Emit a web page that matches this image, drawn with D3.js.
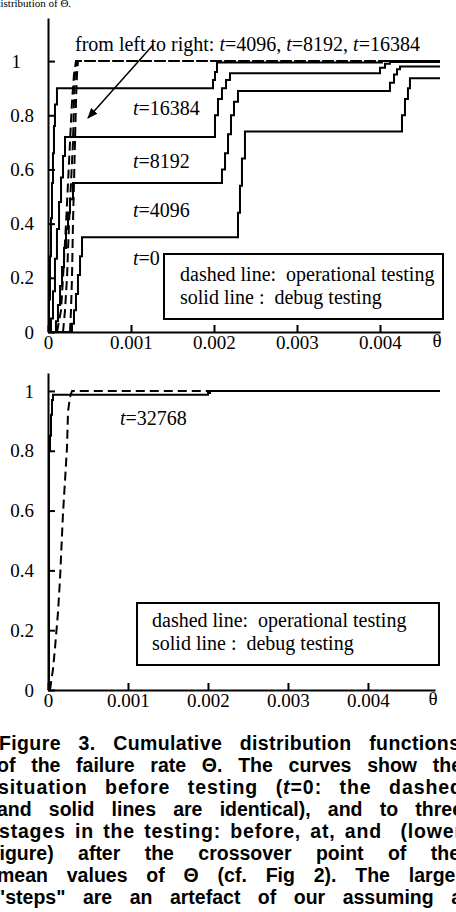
<!DOCTYPE html>
<html><head><meta charset="utf-8">
<script src="https://cdn.jsdelivr.net/npm/d3@7"></script>
<style>html,body{margin:0;padding:0;background:#fff;overflow:hidden}</style>
</head><body>
<svg id="c" width="456" height="912" xmlns="http://www.w3.org/2000/svg"></svg>
<script>
// ---------- data ----------
const xTicks = [0, 0.001, 0.002, 0.003, 0.004];
const xTickLabels = ["0", "0.001", "0.002", "0.003", "0.004"];
const yTicks = [0, 0.2, 0.4, 0.6, 0.8, 1];
const yTickLabels = ["0", "0.2", "0.4", "0.6", "0.8", "1"];

// Upper panel: debug testing (solid) CDFs, [theta, F] steps
const solidT0 = [[0,0],[0.000265,0],[0.000289,0.03],[0.000313,0.08],[0.000337,0.14],[0.000361,0.21],[0.000386,0.28],[0.00041,0.35],
  [0.002289,0.44],[0.002313,0.54],[0.002337,0.64],[0.002373,0.74],[0.004265,0.80],[0.004301,0.86],[0.004337,0.90],[0.004361,0.937],[0.004723,0.937]];
const solidT4096 = [[0,0],[0.000072,0],[0.000096,0.04],[0.00012,0.10],[0.000145,0.17],[0.000169,0.24],[0.000193,0.31],[0.000217,0.38],[0.000241,0.44],[0.000265,0.49],[0.000301,0.55],
  [0.002096,0.60],[0.002133,0.66],[0.002169,0.73],[0.002205,0.80],[0.002241,0.85],[0.002289,0.89],[0.00412,0.92],[0.004169,0.95],[0.004205,0.97],[0.004241,0.98],[0.004723,0.98]];
const solidT8192 = [[0,0],[0.000024,0],[0.000036,0.05],[0.00006,0.15],[0.000084,0.27],[0.000108,0.38],[0.000133,0.48],[0.000157,0.57],[0.000181,0.65],[0.000205,0.72],
  [0.002012,0.80],[0.002048,0.86],[0.002096,0.90],[0.002145,0.93],[0.002193,0.955],[0.004,0.975],[0.00406,0.99],[0.00412,0.997],[0.004723,0.997]];
const solidT16384 = [[0,0],[0.000012,0.12],[0.000024,0.28],[0.000036,0.42],[0.000048,0.55],[0.00006,0.66],[0.000072,0.76],[0.000084,0.84],[0.000108,0.90],
  [0.001988,0.93],[0.002012,0.96],[0.002036,0.995],[0.004024,1.0],[0.004723,1.0]];
// Upper panel: operational testing (dashed) CDFs, [theta, F]
const dashT4096 = [[0.000108,0],[0.000157,0.08],[0.000181,0.20],[0.000217,0.40],[0.000241,0.55],[0.000265,0.70],[0.000289,0.85],[0.000313,0.95],[0.000337,1.0],[0.004723,1.0]];
const dashT8192 = [[0.000181,0],[0.000205,0.08],[0.000229,0.20],[0.000253,0.40],[0.000277,0.55],[0.000301,0.70],[0.000313,0.85],[0.000325,0.95],[0.000349,1.0],[0.004723,1.0]];
const dashT16384 = [[0.000265,0],[0.000277,0.08],[0.000289,0.20],[0.000301,0.40],[0.000313,0.55],[0.000325,0.70],[0.000337,0.85],[0.000349,0.95],[0.000361,1.0],[0.004723,1.0]];

// Lower panel: t = 32768
const solidT32768 = [[0,0],[0.0000125,0.80],[0.000025,0.85],[0.0000375,0.92],[0.00005,0.97],[0.0000625,0.987],[0.002,0.993],[0.002025,1.0],[0.0049,1.0]];
const dashT32768 = [[0.000025,0],[0.0000625,0.07],[0.0000875,0.14],[0.000125,0.26],[0.00015,0.37],[0.0001875,0.59],[0.0002125,0.70],[0.0002375,0.81],[0.00025,0.93],[0.000275,0.98],[0.0003,1.0],[0.0049,1.0]];

const legendLines = ["dashed line:  operational testing", "solid line :  debug testing"];
const captionLines = [
  "Figure 3. Cumulative distribution functions",
  "of the failure rate \u0398. The curves show the",
  "situation before testing (t=0: the dashed",
  "and solid lines are identical), and to three",
  "stages in the testing: before, at, and  (lower",
  "figure) after the crossover point of the",
  "mean values of \u0398 (cf. Fig 2). The larger",
  "\"steps\" are an artefact of our assuming a"
];

// ---------- drawing ----------
const svg = d3.select("#c");
svg.append("rect").attr("width",456).attr("height",912).attr("fill","#fff");
const SERIF = "'Liberation Serif','Times New Roman',serif";

// heading fragment from previous text (cut by the page top, as in the reference)
svg.append("text").attr("x",-5).attr("y",7).attr("font-family",SERIF).attr("font-size",11)
  .text("distribution of \u0398.");

function panel(cfg){
  const x = d3.scaleLinear().domain([0, cfg.xMax]).range([48, cfg.xRight]);
  const y = d3.scaleLinear().domain([0, cfg.yMax]).range([cfg.yBottom, cfg.yTop]);
  const g = svg.append("g");
  const xa = g.append("g").attr("transform",`translate(0,${cfg.yBottom})`)
    .call(d3.axisBottom(x).tickValues(xTicks).tickFormat((d,i)=>xTickLabels[i]).tickSizeInner(-7).tickSizeOuter(0).tickPadding(4));
  const ya = g.append("g").attr("transform",`translate(48,0)`)
    .call(d3.axisLeft(y).tickValues(yTicks).tickFormat((d,i)=>yTickLabels[i]).tickSizeInner(-7).tickSizeOuter(0).tickPadding(14));
  [xa, ya].forEach(a=>{
    a.attr("font-family",SERIF).attr("font-size",19);
    a.selectAll("path.domain").attr("stroke","#000").attr("stroke-width",2);
    a.selectAll(".tick line").attr("stroke","#000").attr("stroke-width",2);
    a.selectAll(".tick text").attr("fill","#000");
  });
  if (cfg.oneShift) ya.selectAll(".tick text").filter(d=>d===1).attr("dx", cfg.oneShift);
  g.append("text").attr("x",cfg.thetaX).attr("y",cfg.yBottom+15).attr("text-anchor","middle")
    .attr("font-family",SERIF).attr("font-size",19).text("\u03b8");
  return {x, y, g};
}

function drawCurves(p, list){
  list.forEach(c=>{
    const line = d3.line().x(d=>p.x(d[0])).y(d=>p.y(d[1])).curve(c.step ? d3.curveStepAfter : d3.curveLinear);
    p.g.append("path").datum(c.data).attr("d",line).attr("fill","none").attr("stroke","#000")
      .attr("stroke-width",2).attr("stroke-dasharray", c.dash ? "9,5" : null);
  });
}

function legend(bx, by, bw, bh, tx, ty1, ty2){
  svg.append("rect").attr("x",bx).attr("y",by).attr("width",bw).attr("height",bh)
    .attr("fill","#fff").attr("stroke","#000").attr("stroke-width",2);
  [ty1, ty2].forEach((ty,i)=>{
    svg.append("text").attr("x",tx).attr("y",ty).attr("font-family",SERIF).attr("font-size",20)
      .style("white-space","pre").text(legendLines[i]);
  });
}

function tLabel(x, y, val){
  const t = svg.append("text").attr("x",x).attr("y",y).attr("font-family",SERIF).attr("font-size",20);
  t.append("tspan").attr("font-style","italic").text("t");
  t.append("tspan").text("=" + val);
  return t;
}

// upper panel
const topP = panel({xMax:0.004723, xRight:440, yMax:1.159, yBottom:332, yTop:18, thetaX:437, oneShift:-13});
drawCurves(topP, [
  {data: dashT4096, dash:true}, {data: dashT8192, dash:true}, {data: dashT16384, dash:true},
  {data: solidT0, step:true}, {data: solidT4096, step:true}, {data: solidT8192, step:true}, {data: solidT16384, step:true}
]);
legend(164, 254, 279, 65, 180, 281, 304);

// annotation text upper
{
  const t = svg.append("text").attr("x",75).attr("y",51).attr("font-family",SERIF).attr("font-size",20);
  t.append("tspan").text("from left to right: ");
  t.append("tspan").attr("font-style","italic").text("t");
  t.append("tspan").text("=4096, ");
  t.append("tspan").attr("font-style","italic").text("t");
  t.append("tspan").text("=8192, ");
  t.append("tspan").attr("font-style","italic").text("t");
  t.append("tspan").text("=16384");
}
tLabel(133,115,"16384");
tLabel(133,168,"8192");
tLabel(133,217,"4096");
tLabel(133,265,"0");

// arrow
const arrowPts = [[0.001265,1.059],[0.000482,0.79]];
svg.append("defs").append("marker").attr("id","ah").attr("viewBox","0 0 10 10").attr("refX",9).attr("refY",5)
  .attr("markerWidth",7).attr("markerHeight",7).attr("markerUnits","strokeWidth").attr("orient","auto")
  .append("path").attr("d","M0,1L10,5L0,9Z").attr("fill","#000");
svg.append("line").attr("x1",topP.x(arrowPts[0][0])).attr("y1",topP.y(arrowPts[0][1]))
  .attr("x2",topP.x(arrowPts[1][0])).attr("y2",topP.y(arrowPts[1][1]))
  .attr("stroke","#000").attr("stroke-width",1.5).attr("marker-end","url(#ah)");

// lower panel
const botP = panel({xMax:0.004838, xRight:435, yMax:1.06, yBottom:690, yTop:373, thetaX:433});
drawCurves(botP, [{data: dashT32768, dash:true}, {data: solidT32768, step:true}]);
legend(137, 603, 302, 62, 152, 627, 650);
tLabel(120,425,"32768");

// caption, justified lines (clipped by page edges as in the reference)
const capX0 = [-1,-3,-2,-3,-1,-7,-3,-4];
const capX1 = [460,462,462,463,462,460,463,462];
const capLetterShare = [0.25,0,0.4,0,0.6,0,0,0];
captionLines.forEach((s,i)=>{
  const t = svg.append("text").attr("x",capX0[i]).attr("y",750+i*22)
    .attr("font-family","'Liberation Sans',Arial,sans-serif").attr("font-weight","bold").attr("font-size",19.5)
    .style("white-space","pre");
  if (i===2){
    t.append("tspan").text("situation before testing (");
    t.append("tspan").attr("font-style","italic").text("t");
    t.append("tspan").text("=0: the dashed");
  } else t.text(s);
  const nat = t.node().getComputedTextLength();
  const spaces = (s.match(/ /g)||[]).length;
  const extra = (capX1[i]-capX0[i]) - nat;
  const ls = extra*capLetterShare[i]/(s.length-1);
  const ws = spaces ? (extra*(1-capLetterShare[i]))/spaces : 0;
  t.attr("letter-spacing", ls).attr("word-spacing", ws);
});
</script>
</body></html>
